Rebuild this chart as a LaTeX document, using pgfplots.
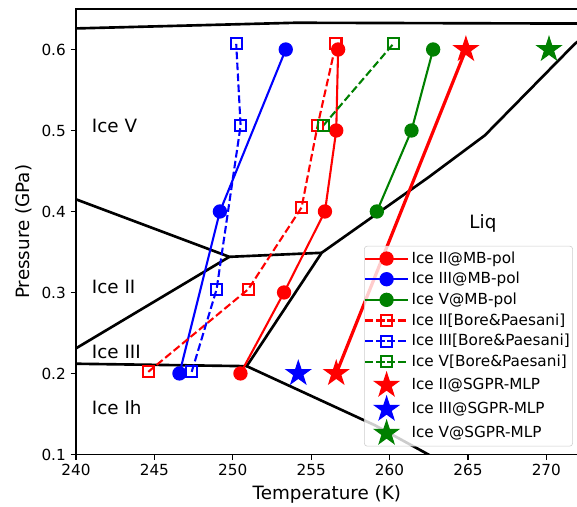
\documentclass[border=0pt]{standalone}
\usepackage{pgfplots}
\pgfplotsset{compat=1.18}
\usepackage{fontspec}
\setmainfont{DejaVu Sans}
\definecolor{mplgreen}{rgb}{0,0.5,0}
\makeatletter
\pgfdeclareplotmark{fstar}{%
  \pgfpathmoveto{\pgfpointpolar{90}{\pgfplotmarksize}}%
  \pgfpathlineto{\pgfpointpolar{126}{0.382\pgfplotmarksize}}%
  \pgfpathlineto{\pgfpointpolar{162}{\pgfplotmarksize}}%
  \pgfpathlineto{\pgfpointpolar{198}{0.382\pgfplotmarksize}}%
  \pgfpathlineto{\pgfpointpolar{234}{\pgfplotmarksize}}%
  \pgfpathlineto{\pgfpointpolar{270}{0.382\pgfplotmarksize}}%
  \pgfpathlineto{\pgfpointpolar{306}{\pgfplotmarksize}}%
  \pgfpathlineto{\pgfpointpolar{342}{0.382\pgfplotmarksize}}%
  \pgfpathlineto{\pgfpointpolar{18}{\pgfplotmarksize}}%
  \pgfpathlineto{\pgfpointpolar{54}{0.382\pgfplotmarksize}}%
  \pgfpathclose\pgfusepathqfillstroke}
\makeatother
\begin{document}
\begin{tikzpicture}
\begin{axis}[
  scale only axis, width=361.3pt, height=320.8pt,
  xmin=240, xmax=272, ymin=0.1, ymax=0.65,
  xtick={240,245,...,270}, ytick={0.1,0.2,...,0.6},
  yticklabel style={/pgf/number format/fixed,/pgf/number format/precision=1},
  /pgf/number format/assume math mode=true,
  tick align=outside, xtick pos=bottom, ytick pos=left,
  major tick length=3.8pt,
  every tick/.style={black, line width=0.9pt},
  axis line style={line width=0.9pt},
  ticklabel style={font=\fontsize{11}{13}\selectfont},
  label style={font=\fontsize{13.2}{15}\selectfont},
  xlabel={Temperature (K)}, ylabel={Pressure (GPa)},
  clip=true,
  legend cell align=left,
  legend style={at={(1,0)}, xshift=-3.5pt, yshift=5.8pt, anchor=south east,
    font=\fontsize{11}{13}\selectfont, draw=black!20, fill=white, fill opacity=0.8, text opacity=1, draw opacity=1,
    rounded corners=2pt, row sep=1.0pt, inner xsep=0pt, inner ysep=2pt},
  legend image code/.code={\draw[fill opacity=1, draw opacity=1, mark repeat=2,mark phase=2,#1] plot coordinates {(0pt,0pt) (15.25pt,0pt) (30.5pt,0pt)};},
]
% phase boundaries
\addplot[black, line width=1.9pt, forget plot] coordinates {(240,0.626) (254,0.633) (272,0.632)};
\addplot[black, line width=1.9pt, forget plot] coordinates {(240,0.415) (249.78,0.344) (255.67,0.349)};
\addplot[black, line width=1.9pt, forget plot] coordinates {(240,0.231) (249.78,0.344)};
\addplot[black, line width=1.9pt, forget plot] coordinates {(240,0.212) (250.89,0.209) (255.67,0.349) (262.47,0.442) (266.08,0.494) (271.82,0.607) (272.5,0.617)};
\addplot[black, line width=1.9pt, forget plot] coordinates {(250.89,0.209) (259.07,0.136) (262.47,0.1) (263,0.094)};
% SGPR line
\addplot[red, line width=2.3pt, forget plot] coordinates {(256.6,0.2) (264.87,0.6)};
% MB-pol
\addplot[red, line width=1.5pt, mark=*, mark size=4.4pt] coordinates {(250.49,0.2) (253.27,0.3) (255.88,0.4) (256.6,0.5) (256.72,0.6)};
\addlegendentry{Ice II@MB-pol}
\addplot[blue, line width=1.5pt, mark=*, mark size=4.4pt] coordinates {(246.6,0.2) (249.18,0.4) (253.38,0.6)};
\addlegendentry{Ice III@MB-pol}
\addplot[mplgreen, line width=1.5pt, mark=*, mark size=4.4pt] coordinates {(259.19,0.4) (261.4,0.5) (262.78,0.6)};
\addlegendentry{Ice V@MB-pol}
% Bore & Paesani
\addplot[red, line width=1.5pt, dash pattern=on 5.5pt off 2.4pt, mark=square, mark size=4pt, mark options={solid, fill=none}] coordinates {(244.61,0.202) (250.99,0.304) (254.39,0.405) (255.41,0.506) (256.58,0.607)};
\addlegendentry{Ice II[Bore\&Paesani]}
\addplot[blue, line width=1.5pt, dash pattern=on 5.5pt off 2.4pt, mark=square, mark size=4pt, mark options={solid, fill=none}] coordinates {(247.38,0.202) (248.97,0.304) (250.5,0.506) (250.22,0.607)};
\addlegendentry{Ice III[Bore\&Paesani]}
\addplot[mplgreen, line width=1.5pt, dash pattern=on 5.5pt off 2.4pt, mark=square, mark size=4pt, mark options={solid, fill=none}] coordinates {(255.77,0.506) (260.24,0.607)};
\addlegendentry{Ice V[Bore\&Paesani]}
% SGPR-MLP
\addplot[red, only marks, mark=fstar, mark size=9pt, line width=0.8pt] coordinates {(256.6,0.2) (264.87,0.6)};
\addlegendentry{Ice II@SGPR-MLP}
\addplot[blue, only marks, mark=fstar, mark size=9pt, line width=0.8pt] coordinates {(254.18,0.2)};
\addlegendentry{Ice III@SGPR-MLP}
\addplot[mplgreen, only marks, mark=fstar, mark size=9pt, line width=0.8pt] coordinates {(270.17,0.6)};
\addlegendentry{Ice V@SGPR-MLP}
% region labels
\node[anchor=base west, font=\fontsize{13.2}{15}\selectfont, inner sep=0pt] at (axis cs:241.0,0.4975) {Ice V};
\node[anchor=base west, font=\fontsize{13.2}{15}\selectfont, inner sep=0pt] at (axis cs:241.0,0.299) {Ice II};
\node[anchor=base west, font=\fontsize{13.2}{15}\selectfont, inner sep=0pt] at (axis cs:241.0,0.219) {Ice III};
\node[anchor=base west, font=\fontsize{13.2}{15}\selectfont, inner sep=0pt] at (axis cs:241.0,0.149) {Ice Ih};
\node[anchor=base west, font=\fontsize{13.2}{15}\selectfont, inner sep=0pt] at (axis cs:265.08,0.3786) {Liq};
\coordinate (SW) at (rel axis cs:0,0);
\coordinate (NE) at (rel axis cs:1,1);
\end{axis}
\pgfresetboundingbox
\path[use as bounding box] ([xshift=-54.72pt,yshift=-37.44pt]SW) rectangle ([xshift=-0.5pt,yshift=6.48pt]NE);
\end{tikzpicture}
\end{document}
